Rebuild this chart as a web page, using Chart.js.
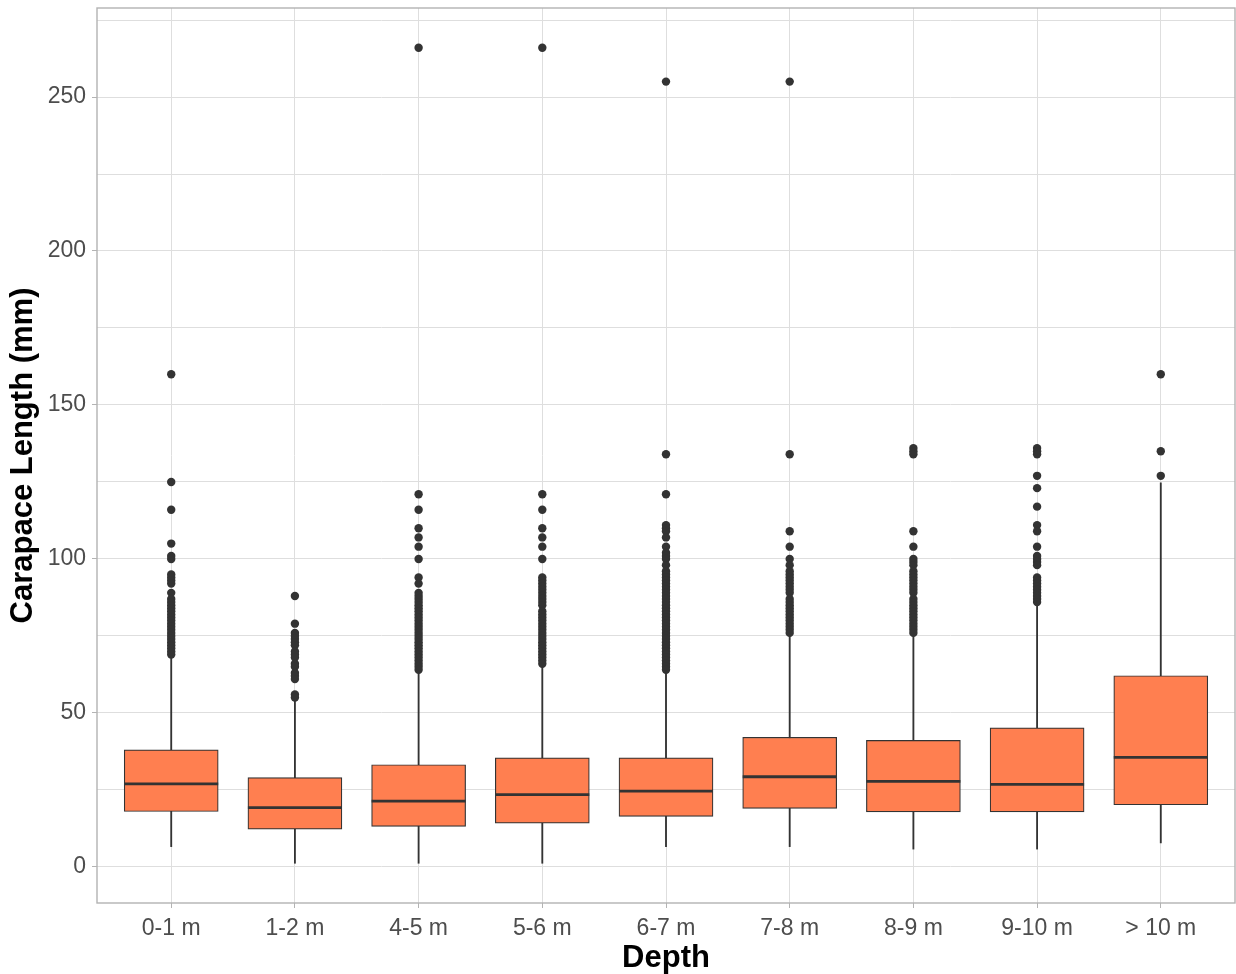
<!DOCTYPE html>
<html>
<head>
<meta charset="utf-8">
<script src="https://cdn.jsdelivr.net/npm/chart.js@4.4.1/dist/chart.umd.min.js"></script>
<style>
  html, body { margin: 0; padding: 0; background: #ffffff; }
  #wrap { width: 1236px; height: 974px; }
</style>
</head>
<body>
<div id="wrap"><canvas id="boxChart"></canvas></div>
<script>
// Depth classes and box statistics
const depths = ['0-1 m', '1-2 m', '4-5 m', '5-6 m', '6-7 m', '7-8 m', '8-9 m', '9-10 m', '> 10 m'];
const lowWhisker  = [6.6, 1.2, 1.2, 1.2, 6.6, 6.6, 5.8, 5.8, 7.8];
const q1          = [18, 12.3, 13.2, 14.2, 16.4, 19, 17.9, 17.9, 20.2];
const medians     = [27, 19.3, 21.4, 23.5, 24.6, 29.3, 27.8, 26.8, 35.6];
const q3          = [38, 29, 33.2, 35.4, 35.4, 42.1, 41.1, 45.2, 62.1];
const highWhisker = [68.4, 54.5, 63.2, 65.5, 63.2, 75.4, 75.4, 84.7, 124.7];

const outliers = [
  [160, 125, 116, 105, 101, 100, 95, 94, 93, 92, 89, 87, 86, 85, 84, 83, 82, 81, 80, 79, 78, 77, 76, 75, 74, 73, 72, 71, 70, 69],
  [88, 79, 76, 75, 74, 73, 72, 70, 69, 68, 66, 65, 63, 62, 61, 56, 55],
  [266, 121, 116, 110, 107, 104, 100, 94, 92, 89, 88, 87, 86, 85, 84, 83, 82, 81, 80, 79, 78, 77, 76, 75, 74, 73, 72, 71, 70, 69, 68, 67, 66, 65, 64],
  [266, 121, 116, 110, 107, 104, 100, 94, 93, 92, 91, 90, 89, 88, 87, 86, 85, 83, 82, 81, 80, 79, 78, 77, 76, 75, 74, 73, 72, 71, 70, 69, 68, 67, 66],
  [255, 134, 121, 111, 110, 109, 107, 104, 102, 101, 100, 98, 96, 95, 94, 93, 92, 91, 90, 89, 88, 87, 86, 85, 84, 83, 82, 81, 80, 79, 78, 77, 76, 75, 74, 73, 72, 71, 70, 69, 68, 67, 66, 65, 64],
  [255, 134, 109, 104, 100, 98, 96, 95, 94, 93, 92, 91, 90, 89, 87, 86, 85, 84, 83, 82, 81, 80, 79, 78, 77, 76],
  [136, 135, 134, 109, 104, 100, 99, 98, 96, 95, 94, 93, 92, 91, 90, 89, 87, 86, 85, 84, 83, 82, 81, 80, 79, 78, 77, 76],
  [136, 135, 134, 127, 123, 117, 111, 109, 104, 101, 100, 99, 98, 94, 93, 92, 91, 90, 89, 88, 87, 86],
  [160, 135, 127]
];

const yTicks = [0, 25, 50, 75, 100, 125, 150, 175, 200, 225, 250, 275];
const yLabelStep = 50;

const FONT = "'Liberation Sans', Arial, sans-serif";

// draws the grey panel frame around the plotting area
const panelBorder = {
  id: 'panelBorder',
  afterDatasetsDraw(chart) {
    const { ctx, chartArea } = chart;
    ctx.save();
    ctx.strokeStyle = '#B3B3B3';
    ctx.lineWidth = 1.4;
    ctx.strokeRect(chartArea.left, chartArea.top, chartArea.right - chartArea.left, chartArea.bottom - chartArea.top);
    ctx.restore();
  }
};

window.addEventListener('DOMContentLoaded', () => {
  const ctx = document.getElementById('boxChart').getContext('2d');

  const outlierPoints = [];
  outliers.forEach((vals, i) => vals.forEach(v => outlierPoints.push({ x: i + 1, y: v })));

  new Chart(ctx, {
    type: 'bar',
    data: {
      datasets: [{
        label: 'whiskers',
        data: depths.map((d, i) => ({ x: i + 1, y: [lowWhisker[i], highWhisker[i]] })),
        backgroundColor: '#333333',
        barThickness: 1.2,
        order: 4
      }, {
        label: 'boxes',
        data: depths.map((d, i) => ({ x: i + 1, y: [q1[i], q3[i]] })),
        backgroundColor: '#FF7F50',
        borderColor: '#333333',
        borderWidth: 1.2,
        borderSkipped: false,
        barThickness: 94,
        order: 3
      }, {
        type: 'scatter',
        label: 'medians',
        data: depths.map((d, i) => ({ x: i + 1, y: medians[i] })),
        pointStyle: 'line',
        pointRadius: 47,
        pointHoverRadius: 47,
        borderColor: '#333333',
        borderWidth: 2.8,
        order: 2
      }, {
        type: 'scatter',
        label: 'outliers',
        data: outlierPoints,
        pointRadius: 4.2,
        pointHoverRadius: 4.2,
        backgroundColor: '#333333',
        borderWidth: 0,
        order: 1
      }]
    },
    options: {
      responsive: true,
      maintainAspectRatio: false,
      animation: false,
      datasets: { bar: { grouped: false } },
      layout: { autoPadding: false, padding: { top: 8, right: 1, bottom: 0, left: 0 } },
      plugins: {
        legend: { display: false },
        tooltip: { enabled: false }
      },
      scales: {
        x: {
          type: 'linear',
          min: 0.4,
          max: 9.6,
          offset: false,
          afterBuildTicks: axis => { axis.ticks = depths.map((d, i) => ({ value: i + 1 })); },
          afterFit: scale => { scale.height = 71; scale.paddingLeft = 0; scale.paddingRight = 0; },
          ticks: {
            autoSkip: false,
            maxRotation: 0,
            padding: 7,
            color: '#4D4D4D',
            font: { family: FONT, size: 23 },
            callback: v => depths[Math.round(v) - 1]
          },
          grid: { offset: false, color: '#DEDEDE', lineWidth: 1, tickColor: '#B3B3B3', tickLength: 5 },
          border: { display: false },
          title: {
            display: true,
            text: 'Depth',
            color: '#000000',
            padding: { top: 0, bottom: -3 },
            font: { family: FONT, size: 31, weight: 'bold' }
          }
        },
        y: {
          min: -11.7,
          max: 278.9,
          afterBuildTicks: axis => { axis.ticks = yTicks.map(v => ({ value: v })); },
          afterFit: scale => { scale.width = 97; scale.paddingTop = 0; scale.paddingBottom = 0; },
          ticks: {
            padding: 6,
            color: '#4D4D4D',
            font: { family: FONT, size: 23 },
            callback: v => (v % yLabelStep === 0 ? String(v) : '')
          },
          grid: {
            color: '#DEDEDE',
            lineWidth: 1,
            tickLength: 5,
            tickColor: c => (c.tick && c.tick.value % yLabelStep === 0 ? '#B3B3B3' : 'rgba(0,0,0,0)')
          },
          border: { display: false },
          title: {
            display: true,
            text: 'Carapace Length (mm)',
            color: '#000000',
            padding: { top: 5, bottom: 0 },
            font: { family: FONT, size: 31, weight: 'bold' }
          }
        }
      }
    },
    plugins: [panelBorder]
  });
});
</script>
</body>
</html>
